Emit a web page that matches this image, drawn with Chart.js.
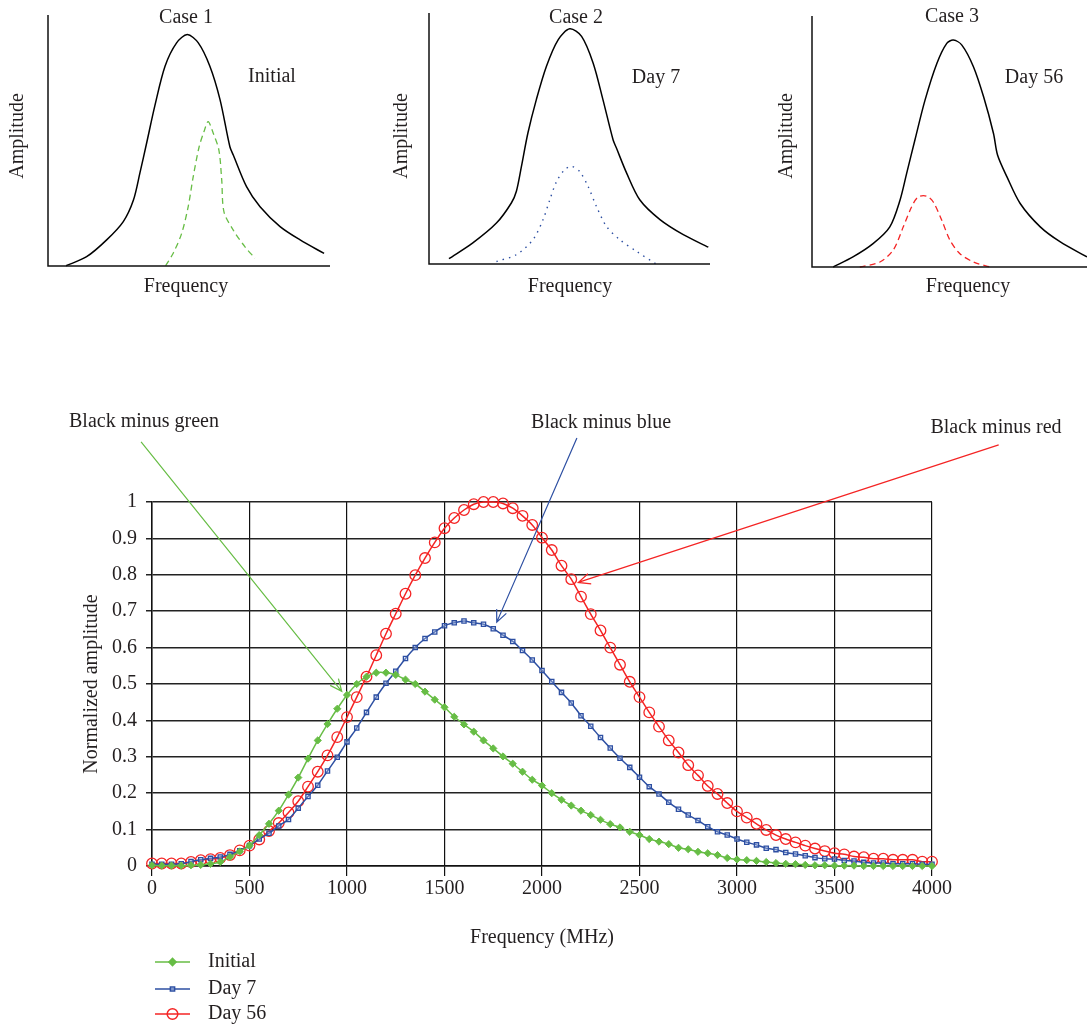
<!DOCTYPE html>
<html>
<head>
<meta charset="utf-8">
<script src="https://cdn.jsdelivr.net/npm/chart.js@4.4.1/dist/chart.umd.min.js"></script>
<style>
  html, body { margin: 0; padding: 0; background: #fff; }
  #page { position: relative; width: 1087px; height: 1028px; overflow: hidden; }
  .box { position: absolute; }
</style>
</head>
<body>
<div id="page">
  <div class="box" style="left:0;top:0;width:362px;height:310px"><canvas id="case1"></canvas></div>
  <div class="box" style="left:380px;top:0;width:362px;height:310px"><canvas id="case2"></canvas></div>
  <div class="box" style="left:760px;top:0;width:327px;height:310px"><canvas id="case3"></canvas></div>
  <div class="box" style="left:0;top:380px;width:1087px;height:648px"><canvas id="mainChart"></canvas></div>
</div>
<script>
// ---- main chart data (Frequency in MHz, normalized amplitude) ----
const frequencies = [
  0, 50, 100, 150, 200, 250, 300, 350, 400, 450,
  500, 550, 600, 650, 700, 750, 800, 850, 900, 950,
  1000, 1050, 1100, 1150, 1200, 1250, 1300, 1350, 1400, 1450,
  1500, 1550, 1600, 1650, 1700, 1750, 1800, 1850, 1900, 1950,
  2000, 2050, 2100, 2150, 2200, 2250, 2300, 2350, 2400, 2450,
  2500, 2550, 2600, 2650, 2700, 2750, 2800, 2850, 2900, 2950,
  3000, 3050, 3100, 3150, 3200, 3250, 3300, 3350, 3400, 3450,
  3500, 3550, 3600, 3650, 3700, 3750, 3800, 3850, 3900, 3950,
  4000
];

const initialAmp = [
  0.002, 0.001, 0.001, 0.001, 0.002, 0.003, 0.006, 0.011, 0.025, 0.040,
  0.056, 0.085, 0.116, 0.152, 0.196, 0.243, 0.295, 0.345, 0.390, 0.432,
  0.470, 0.500, 0.520, 0.531, 0.531, 0.525, 0.512, 0.500, 0.479, 0.457,
  0.436, 0.410, 0.389, 0.369, 0.345, 0.323, 0.301, 0.281, 0.259, 0.237,
  0.221, 0.200, 0.182, 0.166, 0.152, 0.140, 0.127, 0.115, 0.106, 0.094,
  0.085, 0.074, 0.067, 0.060, 0.050, 0.046, 0.039, 0.035, 0.030, 0.022,
  0.018, 0.016, 0.014, 0.011, 0.008, 0.006, 0.005, 0.003, 0.002, 0.002,
  0.001, 0.001, 0.001, 0.000, 0.000, 0.000, 0.000, 0.000, 0.000, 0.000,
  0.000
];

const day7Amp = [
  0.005, 0.005, 0.005, 0.006, 0.012, 0.017, 0.021, 0.025, 0.032, 0.042,
  0.056, 0.074, 0.090, 0.110, 0.128, 0.159, 0.191, 0.222, 0.261, 0.299,
  0.341, 0.379, 0.422, 0.464, 0.502, 0.535, 0.570, 0.600, 0.625, 0.643,
  0.660, 0.668, 0.673, 0.668, 0.664, 0.652, 0.634, 0.617, 0.592, 0.566,
  0.537, 0.507, 0.477, 0.448, 0.413, 0.384, 0.353, 0.324, 0.296, 0.271,
  0.244, 0.218, 0.198, 0.175, 0.156, 0.140, 0.125, 0.108, 0.094, 0.085,
  0.074, 0.065, 0.058, 0.049, 0.045, 0.037, 0.033, 0.028, 0.023, 0.020,
  0.019, 0.015, 0.014, 0.010, 0.008, 0.008, 0.006, 0.006, 0.006, 0.005,
  0.005
];

const day56Amp = [
  0.007, 0.007, 0.007, 0.007, 0.011, 0.016, 0.019, 0.022, 0.030, 0.043,
  0.056, 0.073, 0.096, 0.118, 0.147, 0.178, 0.218, 0.259, 0.304, 0.354,
  0.409, 0.464, 0.520, 0.579, 0.638, 0.693, 0.748, 0.799, 0.846, 0.889,
  0.928, 0.956, 0.978, 0.994, 1.000, 1.000, 0.996, 0.983, 0.962, 0.937,
  0.902, 0.868, 0.825, 0.788, 0.740, 0.692, 0.647, 0.600, 0.553, 0.506,
  0.464, 0.422, 0.383, 0.345, 0.312, 0.277, 0.249, 0.220, 0.198, 0.173,
  0.150, 0.133, 0.116, 0.099, 0.085, 0.074, 0.065, 0.056, 0.048, 0.041,
  0.035, 0.032, 0.026, 0.024, 0.020, 0.020, 0.017, 0.017, 0.017, 0.012,
  0.012
];

const seriesNames = ["Initial", "Day 7", "Day 56"];
const xTicks = [0, 500, 1000, 1500, 2000, 2500, 3000, 3500, 4000];
const yTicks = [0, 0.1, 0.2, 0.3, 0.4, 0.5, 0.6, 0.7, 0.8, 0.9, 1];

// ---- schematic panels (arbitrary units 0..100) ----
const case1BlackX = [6.4, 13.7, 20.8, 26.7, 30.3, 32.6, 35.0, 37.9, 41.5, 45.6, 49.4, 53.3, 57.4, 61.0, 64.5, 65.7, 70.4, 75.2, 82.3, 89.4, 97.9];
const case1BlackY = [0.1, 3.7, 10.4, 17.7, 26.3, 37.1, 49.1, 63.9, 79.6, 88.9, 92.2, 88.9, 79.6, 66.3, 47.5, 44.2, 31.6, 23.6, 15.7, 10.4, 5.0];
const case1GreenX = [41.7, 44.4, 47.4, 49.7, 51.5, 53.6, 55.3, 56.8, 58.6, 60.6, 61.6, 62.4, 65.7, 69.8, 73.4];
const case1GreenY = [0.1, 5.1, 13.0, 23.6, 35.6, 47.5, 53.5, 57.5, 52.9, 46.2, 34.3, 21.6, 14.3, 7.7, 3.1];

const case2BlackX = [7.1, 15.6, 24.0, 29.3, 31.1, 32.9, 35.2, 38.2, 41.8, 46.0, 50.1, 54.3, 58.4, 61.9, 65.5, 66.7, 70.3, 75.0, 82.2, 90.5, 99.4];
const case2BlackY = [2.1, 8.4, 16.3, 24.3, 29.0, 38.9, 52.2, 65.5, 78.8, 89.4, 93.7, 90.7, 80.1, 65.5, 49.5, 46.2, 36.3, 25.6, 17.7, 11.7, 6.7];
const case2BlueX = [24.0, 31.1, 37.0, 40.6, 43.0, 45.4, 48.3, 50.7, 53.6, 56.6, 59.6, 63.2, 67.9, 73.9, 80.8];
const case2BlueY = [1.0, 3.7, 9.7, 17.7, 25.6, 32.9, 37.6, 38.9, 36.9, 30.9, 22.9, 14.9, 9.7, 5.0, 0.0];

const case3BlackX = [7.7, 14.9, 22.2, 28.3, 32.0, 34.4, 37.4, 41.1, 45.4, 49.0, 51.4, 54.5, 58.7, 62.4, 66.0, 67.5, 70.9, 75.7, 83.0, 90.3, 100];
const case3BlackY = [0.0, 4.0, 9.3, 16.0, 26.6, 37.2, 50.5, 66.5, 81.1, 89.1, 90.4, 88.4, 79.8, 67.8, 53.2, 44.5, 35.9, 25.3, 16.0, 10.0, 4.0];
const case3RedX = [17.4, 24.7, 29.5, 33.2, 36.2, 38.6, 41.7, 44.1, 47.2, 50.2, 53.8, 58.7, 64.8];
const case3RedY = [0.0, 2.0, 6.7, 16.0, 23.9, 27.9, 28.2, 25.9, 18.6, 10.6, 5.3, 2.0, 0.0];

const GREEN = "#67bd45";
const BLUE = "#2d4fa2";
const RED = "#f42424";
const INK = "#231f20";
const FONT = "'Liberation Serif', 'DejaVu Serif', serif";

Chart.defaults.font.family = FONT;
Chart.defaults.font.size = 20;
Chart.defaults.color = INK;
Chart.defaults.animation = false;

function toPoints(xs, ys) {
  return xs.map((x, i) => ({ x: x, y: ys[i] }));
}

// ---- small panels ----
const caseDecor = {
  id: "caseDecor",
  afterDraw(chart, args, opts) {
    const { ctx, chartArea: a } = chart;
    ctx.save();
    ctx.strokeStyle = "#111";
    ctx.lineWidth = 1.5;
    ctx.beginPath();
    ctx.moveTo(a.left, a.top);
    ctx.lineTo(a.left, a.bottom);
    ctx.lineTo(a.right, a.bottom);
    ctx.stroke();

    ctx.fillStyle = INK;
    ctx.font = "20px " + FONT;
    ctx.textAlign = "center";
    ctx.textBaseline = "middle";
    ctx.fillText(opts.title, opts.titleAt[0], opts.titleAt[1]);
    ctx.fillText(opts.tag, opts.tagAt[0], opts.tagAt[1]);
    ctx.fillText("Frequency", opts.freqAt[0], opts.freqAt[1]);
    ctx.translate(opts.ampAt[0], opts.ampAt[1]);
    ctx.rotate(-Math.PI / 2);
    ctx.fillText("Amplitude", 0, 0);
    ctx.restore();
  }
};

function makeCase(id, curves, padding, decor) {
  return new Chart(document.getElementById(id), {
    type: "line",
    data: {
      datasets: curves.map(c => ({
        data: c.points,
        borderColor: c.color,
        borderWidth: c.width,
        borderDash: c.dash,
        pointRadius: 0,
        tension: 0.3,
        fill: false,
        clip: false
      }))
    },
    options: {
      responsive: true,
      maintainAspectRatio: false,
      layout: { padding: padding },
      plugins: { legend: { display: false }, tooltip: { enabled: false }, caseDecor: decor },
      scales: {
        x: { type: "linear", min: 0, max: 100, display: false },
        y: { type: "linear", min: 0, max: 100, display: false }
      }
    },
    plugins: [caseDecor]
  });
}

makeCase("case1", [
  { points: toPoints(case1BlackX, case1BlackY), color: "#000", width: 1.5, dash: [] },
  { points: toPoints(case1GreenX, case1GreenY), color: GREEN, width: 1.3, dash: [6, 4] }
], { left: 48, right: 32, top: 15, bottom: 44 },
{ title: "Case 1", titleAt: [186, 18], tag: "Initial", tagAt: [272, 77], freqAt: [186, 287], ampAt: [18, 136] });

makeCase("case2", [
  { points: toPoints(case2BlackX, case2BlackY), color: "#000", width: 1.5, dash: [] },
  { points: toPoints(case2BlueX, case2BlueY), color: BLUE, width: 1.4, dash: [1.5, 5] }
], { left: 49, right: 32, top: 13, bottom: 46 },
{ title: "Case 2", titleAt: [196, 18], tag: "Day 7", tagAt: [276, 78], freqAt: [190, 287], ampAt: [22, 136] });

makeCase("case3", [
  { points: toPoints(case3BlackX, case3BlackY), color: "#000", width: 1.5, dash: [] },
  { points: toPoints(case3RedX, case3RedY), color: RED, width: 1.3, dash: [6, 4] }
], { left: 52, right: 0, top: 16, bottom: 43 },
{ title: "Case 3", titleAt: [192, 17], tag: "Day 56", tagAt: [274, 78], freqAt: [208, 287], ampAt: [27, 136] });

// ---- main chart ----
// annotation positions in data units (frequency, amplitude)
const annotations = [
  { text: "Black minus green", color: GREEN, label: [-41, 1.221], from: [-56, 1.165], to: [973, 0.480] },
  { text: "Black minus blue", color: BLUE, label: [2303, 1.218], from: [2179, 1.176], to: [1768, 0.670] },
  { text: "Black minus red", color: RED, label: [4328, 1.204], from: [4342, 1.157], to: [2186, 0.779] }
];

const mainDecor = {
  id: "mainDecor",
  afterDraw(chart) {
    const { ctx, scales: { x, y } } = chart;
    ctx.save();
    ctx.font = "20px " + FONT;
    ctx.textAlign = "center";
    ctx.textBaseline = "middle";

    annotations.forEach(a => {
      const x0 = x.getPixelForValue(a.from[0]), y0 = y.getPixelForValue(a.from[1]);
      const x1 = x.getPixelForValue(a.to[0]), y1 = y.getPixelForValue(a.to[1]);
      ctx.strokeStyle = a.color;
      ctx.lineWidth = 1.2;
      ctx.beginPath();
      ctx.moveTo(x0, y0);
      ctx.lineTo(x1, y1);
      const ang = Math.atan2(y1 - y0, x1 - x0);
      const len = 13, spread = 0.42;
      ctx.moveTo(x1 - len * Math.cos(ang - spread), y1 - len * Math.sin(ang - spread));
      ctx.lineTo(x1, y1);
      ctx.lineTo(x1 - len * Math.cos(ang + spread), y1 - len * Math.sin(ang + spread));
      ctx.stroke();

      ctx.fillStyle = INK;
      ctx.fillText(a.text, x.getPixelForValue(a.label[0]), y.getPixelForValue(a.label[1]));
    });

    // legend, stacked under the plot
    const rows = [582, 609, 634];
    chart.data.datasets.forEach((ds, i) => {
      const ly = rows[i];
      ctx.strokeStyle = ds.borderColor;
      ctx.lineWidth = ds.borderWidth;
      ctx.beginPath();
      ctx.moveTo(155, ly);
      ctx.lineTo(190, ly);
      ctx.stroke();
      ctx.fillStyle = ds.pointBackgroundColor;
      Chart.helpers.drawPoint(ctx, {
        pointStyle: ds.pointStyle,
        radius: ds.pointRadius,
        rotation: 0,
        borderWidth: ds.pointBorderWidth
      }, 172.5, ly);
      ctx.fillStyle = INK;
      ctx.textAlign = "left";
      ctx.fillText(ds.label, 208, ly);
    });
    ctx.restore();
  }
};

function series(name, values, color, style) {
  return Object.assign({
    label: name,
    data: toPoints(frequencies, values),
    borderColor: color,
    backgroundColor: color,
    borderWidth: 1.5,
    pointBorderColor: color,
    tension: 0.25,
    fill: false,
    clip: 8
  }, style);
}

new Chart(document.getElementById("mainChart"), {
  type: "line",
  data: {
    datasets: [
      series(seriesNames[0], initialAmp, GREEN, {
        pointStyle: "rectRot", pointRadius: 3.6, pointBackgroundColor: GREEN, pointBorderWidth: 1
      }),
      series(seriesNames[1], day7Amp, BLUE, {
        pointStyle: "rect", pointRadius: 3, pointBackgroundColor: "rgba(190,205,240,0.35)", pointBorderWidth: 1.3
      }),
      series(seriesNames[2], day56Amp, RED, {
        pointStyle: "circle", pointRadius: 5.3, pointBackgroundColor: "rgba(255,255,255,0)", pointBorderWidth: 1.3
      })
    ]
  },
  options: {
    responsive: true,
    maintainAspectRatio: false,
    layout: { padding: { left: 76, right: 155, top: 122, bottom: 74 } },
    plugins: { legend: { display: false }, tooltip: { enabled: false } },
    scales: {
      x: {
        type: "linear",
        min: 0,
        max: 4000,
        afterBuildTicks: s => { s.ticks = xTicks.map(v => ({ value: v })); },
        ticks: { padding: 1, maxRotation: 0, autoSkip: false, color: INK, callback: v => String(v) },
        grid: { color: "#111", lineWidth: 1.2, tickLength: 10 },
        border: { color: "#111", width: 1.5 },
        title: { display: true, text: "Frequency (MHz)", color: INK, padding: { top: 4, bottom: 4 } },
        afterFit: s => { s.height = 88; }
      },
      y: {
        min: 0,
        max: 1,
        afterBuildTicks: s => { s.ticks = yTicks.map(v => ({ value: v })); },
        ticks: { padding: 9, color: INK, callback: v => String(Math.round(v * 10) / 10) },
        grid: { color: "#222", lineWidth: 1.5, tickLength: 6 },
        border: { color: "#111", width: 1.5 },
        title: { display: true, text: "Normalized amplitude", color: INK, padding: { top: 4, bottom: 4 } },
        afterFit: s => { s.width = 76; }
      }
    }
  },
  plugins: [mainDecor]
});
</script>
</body>
</html>
